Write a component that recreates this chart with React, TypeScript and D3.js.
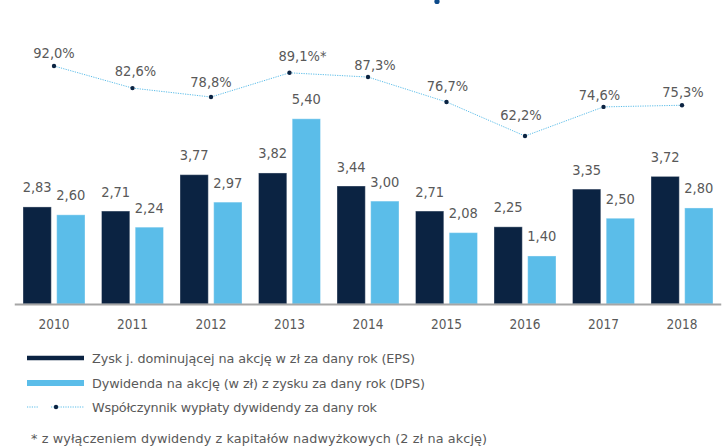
import React from "react";
import * as d3 from "d3";

const years = ["2010", "2011", "2012", "2013", "2014", "2015", "2016", "2017", "2018"];
const eps = [2.83, 2.71, 3.77, 3.82, 3.44, 2.71, 2.25, 3.35, 3.72];
const dps = [2.6, 2.24, 2.97, 5.4, 3.0, 2.08, 1.4, 2.5, 2.8];
const payout = [92.0, 82.6, 78.8, 89.1, 87.3, 76.7, 62.2, 74.6, 75.3];
const payoutLabels = ["92,0%", "82,6%", "78,8%", "89,1%*", "87,3%", "76,7%", "62,2%", "74,6%", "75,3%"];
const legendLabels = [
  "Zysk j. dominującej na akcję w zł za dany rok (EPS)",
  "Dywidenda na akcję (w zł) z zysku za dany rok (DPS)",
  "Współczynnik wypłaty dywidendy za dany rok",
];
const footnote = "* z wyłączeniem dywidendy z kapitałów nadwyżkowych (2 zł na akcję)";

// layout-only label nudges for the payout labels (dx, dy above point)
const labelNudge: [number, number][] = [
  [0, 8], [3, 12], [0, 10], [13, 12], [7, 7], [1, 11], [-4, 16], [-4, 7], [1, 8],
];
// layout-only fitted text widths for legend rows and footnote
const legendWidths = [323, 333, 285];
const footnoteWidth = 456;

const W = 722;
const H = 448;
const NAVY = "#0b2342";
const LIGHT = "#5bbde9";
const GRAY = "#595959";
const FONT = "'DejaVu Sans Condensed', 'DejaVu Sans', sans-serif";
const LFONT = "'DejaVu Sans', sans-serif";

const fmt = (v: number) => v.toFixed(2).replace(".", ",");

export default function App() {
  const x = d3.scaleBand<string>().domain(years).range([14.75, 721.25]).padding(0);
  const x1 = d3
    .scaleBand<string>()
    .domain(["EPS", "DPS"])
    .range([8.25, 70.25])
    .paddingInner(0.16);
  const y = d3.scaleLinear().domain([0, 6]).range([304, 304 - 6 * 34.3]);
  const yl = d3.scaleLinear().domain([0, 100]).range([282.2, 47.2]);
  const cx = (i: number) => (x(years[i]) as number) + x.bandwidth() / 2;

  const line = d3
    .line<number>()
    .x((_, i) => cx(i))
    .y((d) => yl(d));

  const series = [
    { key: "EPS", values: eps, color: NAVY },
    { key: "DPS", values: dps, color: LIGHT },
  ];

  const legendRowY = [358, 383, 407];

  return (
    <svg
      width={W}
      height={H}
      style={{ position: "absolute", left: 0, top: 0, background: "#fff" }}
      fontFamily={FONT}
    >
      {/* stray marker at top */}
      <circle cx={437} cy={1.5} r={2.6} fill="#0d4a8a" />

      {/* bars */}
      {series.map((s) =>
        years.map((yr, i) => {
          const bx = (x(yr) as number) + (x1(s.key) as number);
          const top = y(s.values[i]);
          return (
            <g key={s.key + yr}>
              <rect
                x={bx}
                y={top}
                width={x1.bandwidth()}
                height={y(0) - top}
                fill={s.color}
                stroke="rgba(255,255,255,0.35)"
                strokeWidth={1}
              />
              <text
                x={bx + x1.bandwidth() / 2}
                y={top - 14.5}
                textAnchor="middle"
                fontSize={14.5}
                fill={GRAY}
              >
                {fmt(s.values[i])}
              </text>
            </g>
          );
        })
      )}

      {/* axis */}
      <line x1={x.range()[0]} x2={x.range()[1]} y1={y(0) + 0.5} y2={y(0) + 0.5} stroke="#a6a6a6" strokeWidth={2} />
      {years.map((yr, i) => (
        <text key={yr} x={cx(i)} y={329} textAnchor="middle" fontSize={13.5} fill={GRAY}>
          {yr}
        </text>
      ))}

      {/* payout line */}
      <path d={line(payout) || ""} fill="none" stroke={LIGHT} strokeWidth={1} strokeDasharray="1.2,1.2" />
      {payout.map((v, i) => (
        <g key={"p" + i}>
          <circle cx={cx(i)} cy={yl(v)} r={2.2} fill={NAVY} />
          <text
            x={cx(i) + labelNudge[i][0]}
            y={yl(v) - labelNudge[i][1]}
            textAnchor="middle"
            fontSize={14.5}
            fill={GRAY}
          >
            {payoutLabels[i]}
          </text>
        </g>
      ))}

      {/* legend */}
      <line x1={27} x2={84} y1={legendRowY[0]} y2={legendRowY[0]} stroke={NAVY} strokeWidth={4.5} />
      <line x1={27} x2={84} y1={legendRowY[1]} y2={legendRowY[1]} stroke={LIGHT} strokeWidth={6} />
      <line x1={27} x2={39} y1={legendRowY[2]} y2={legendRowY[2]} stroke={LIGHT} strokeWidth={1} strokeDasharray="1.2,1.2" />
      <line x1={51} x2={84} y1={legendRowY[2]} y2={legendRowY[2]} stroke={LIGHT} strokeWidth={1} strokeDasharray="1.2,1.2" />
      <circle cx={56} cy={legendRowY[2]} r={2.2} fill={NAVY} />
      {legendLabels.map((t, i) => (
        <text
          key={t}
          x={92}
          y={legendRowY[i] + 5}
          fontSize={12.8}
          fill={GRAY}
          fontFamily={LFONT}
          textLength={legendWidths[i]}
          lengthAdjust="spacing"
        >
          {t}
        </text>
      ))}
      <text
        x={31}
        y={443}
        fontSize={12.8}
        fill={GRAY}
        fontFamily={LFONT}
        textLength={footnoteWidth}
        lengthAdjust="spacing"
      >
        {footnote}
      </text>
    </svg>
  );
}
